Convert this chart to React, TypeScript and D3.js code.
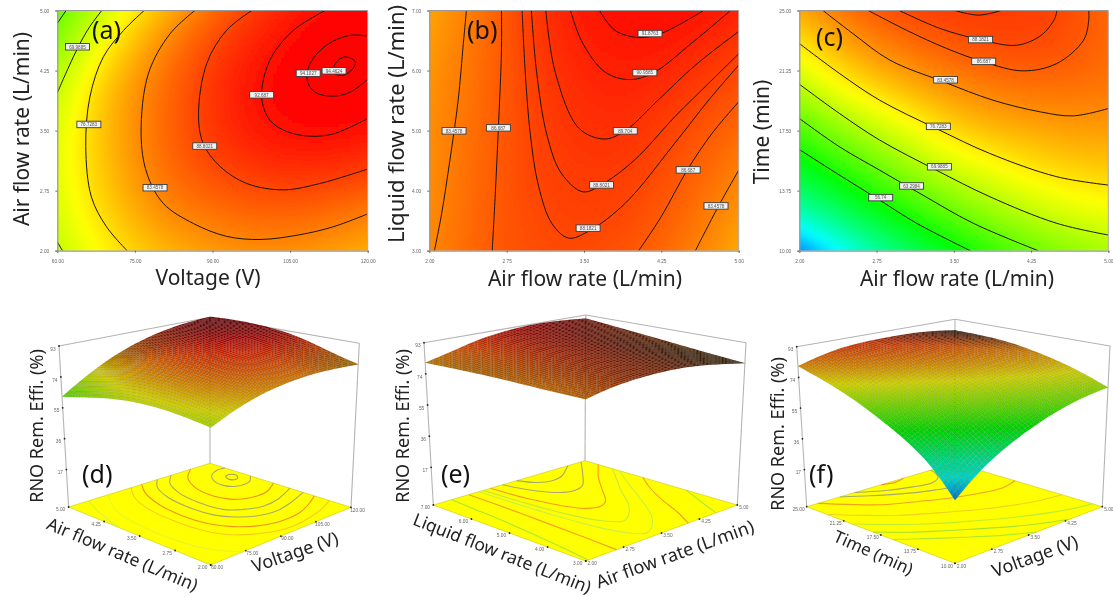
import React, { useEffect, useRef } from 'react'
import * as d3 from 'd3'

// axis ticks
const voltageTicks = [60, 75, 90, 105, 120]
const airTicks = [2, 2.75, 3.5, 4.25, 5]
const liquidTicks = [3, 4, 5, 6, 7]
const timeTicks = [10, 13.75, 17.5, 21.25, 25]
const zTicks = [17, 36, 55, 74, 93]
const colorStops = ['#0000ff', '#00ffff', '#00ff00', '#ffff00', '#ff0000']

// response values read at sample nodes, bottom row first
const gridA = [
  [69.6, 75.3, 79.6, 81.8, 82.7, 82.0, 80.3],
  [71.3, 78.0, 83.0, 85.0, 86.3, 85.8, 83.9],
  [72.3, 79.3, 85.0, 87.9, 89.6, 90.0, 88.8],
  [71.8, 80.0, 85.3, 89.5, 92.0, 93.0, 92.2],
  [69.8, 79.5, 85.0, 89.6, 92.8, 94.1, 93.7],
  [66.0, 75.8, 83.5, 88.5, 91.7, 93.9, 94.3],
  [61.8, 71.2, 79.2, 85.3, 89.7, 92.3, 93.4],
]
const gridB = [
  [83.0, 86.2, 87.5, 87.8, 86.8, 84.0, 80.5],
  [82.5, 85.9, 88.05, 88.8, 88.25, 85.9, 82.6],
  [82.6, 85.4, 88.3, 89.75, 89.6, 87.4, 85.3],
  [82.0, 85.1, 88.8, 90.6, 91.1, 89.75, 87.95],
  [80.8, 84.5, 89.2, 91.6, 92.9, 92.3, 90.7],
]
const gridC = [
  [27, 39, 47.5, 54.5, 60.5, 65, 67.5],
  [43, 50.5, 57.3, 63.5, 68.2, 71.5, 73.3],
  [52.6, 59.2, 65.75, 71, 74, 77.4, 78],
  [60.8, 67.2, 72, 77.8, 80, 81.3, 81.6],
  [68.8, 75.3, 79.5, 82.6, 84.6, 84.9, 84.4],
  [75.2, 81.5, 84.6, 86.9, 88, 87.6, 85.3],
  [81, 85.5, 88.25, 88.8, 88.9, 88.18, 85.4],
]

// contour lines, each [x, y] in axis units
const contoursA = [
  { level: 63.2984, points: [[60, 4.84], [61.7, 5]] },
  { level: 69.9885, points: [[60, 2.11], [61, 2]] },
  { level: 69.9885, points: [[60, 3.97], [62.1, 4.28], [64.4, 4.59], [66.3, 4.8], [68.6, 5]] },
  { level: 76.7283, points: [[76.8, 5], [72.8, 4.75], [68.9, 4.42], [66.3, 3.92], [65.5, 3.3], [66.6, 2.67], [69.5, 2.3], [73.5, 2]] },
  { level: 83.4578, points: [[86.6, 5], [81.8, 4.71], [77.6, 4.21], [76.2, 3.46], [77.3, 2.97], [80.5, 2.59], [86.3, 2.34], [92.7, 2.18], [99.2, 2.14], [106.9, 2.2], [113.4, 2.3], [120, 2.46]] },
  { level: 88.8021, points: [[97.6, 5], [92.7, 4.75], [88.9, 4.34], [87.3, 3.71], [88.2, 3.34], [91.5, 3.05], [96.6, 2.84], [103.7, 2.76], [110.8, 2.84], [120, 3.02]] },
  { level: 92.687, points: [[111.8, 5], [105.6, 4.75], [101.1, 4.38], [99.5, 3.92], [101.1, 3.63], [104.3, 3.49], [108.9, 3.43], [113.4, 3.46], [120, 3.65]] },
  { level: 94.1027, points: [[120, 4.68], [116.6, 4.69], [112.1, 4.57], [108.9, 4.34], [108.3, 4.13], [109.8, 3.98], [113.4, 3.93], [116.6, 3.98], [120, 4.14]] },
  { level: 94.4624, closed: true, points: [[113.4, 4.28], [114.3, 4.38], [115.9, 4.42], [117.6, 4.36], [117.2, 4.28], [115.3, 4.19], [113.7, 4.21]] },
]
// two more rings only the floor of (d) shows
const floorOnlyA = [
  { level: 86.687, points: [[91, 5], [86.5, 4.7], [82.5, 4.2], [81, 3.6], [82, 3.15], [85.5, 2.8], [91, 2.55], [99, 2.42], [107, 2.45], [114, 2.6], [120, 2.78]] },
  { level: 90.9585, points: [[103.5, 5], [98, 4.75], [94, 4.35], [92.5, 3.85], [93.5, 3.4], [97, 3.2], [104, 3.05], [111, 3.1], [120, 3.3]] },
]
const contoursB = [
  { level: 83.4578, points: [[2.05, 3], [2.12, 3.62], [2.2, 4.51], [2.28, 5.51], [2.33, 6.45], [2.36, 7]] },
  { level: 86.687, points: [[2.61, 3], [2.64, 3.95], [2.67, 5.05], [2.7, 6.34], [2.7, 7]] },
  { level: 88.1821, points: [[2.9, 7], [2.93, 5.98], [2.98, 4.93], [3.06, 4.07], [3.19, 3.45], [3.35, 3.21], [3.54, 3.32], [3.9, 3.79], [4.38, 4.79], [4.71, 5.51], [5, 6.09]] },
  { level: 88.8021, points: [[2.99, 7], [3.04, 5.98], [3.14, 4.93], [3.28, 4.29], [3.49, 3.98], [3.67, 4.1], [3.99, 4.51], [4.38, 5.23], [4.71, 5.79], [5, 6.28]] },
  { level: 89.704, points: [[3.13, 7], [3.22, 5.98], [3.45, 5.04], [3.7, 4.86], [3.9, 5], [4.22, 5.51], [4.58, 6.09], [5, 6.65]] },
  { level: 90.9585, points: [[3.37, 7], [3.48, 6.48], [3.7, 5.98], [3.93, 5.85], [4.16, 5.95], [4.54, 6.45], [4.92, 7]] },
  { level: 91.8763, points: [[3.65, 7], [3.8, 6.67], [4.03, 6.55], [4.25, 6.62], [4.66, 7]] },
  { level: 86.687, points: [[4.03, 3], [4.25, 3.57], [4.5, 4.34], [4.74, 4.95], [5, 5.48]] },
  { level: 83.4578, points: [[4.58, 3], [4.8, 3.73], [5, 4.34]] },
]
const contoursC = [
  { level: 56.74, points: [[2, 16.32], [2.39, 14.72], [2.78, 13.16], [3.14, 11.71], [3.66, 10]] },
  { level: 63.2984, points: [[2, 18.26], [2.39, 16.49], [2.78, 15.03], [3.17, 13.58], [3.69, 11.71], [4.32, 10]] },
  { level: 69.9885, points: [[2, 20.4], [2.39, 18.57], [2.78, 16.91], [3.33, 15.03], [3.85, 13.37], [4.5, 11.71], [5, 10.98]] },
  { level: 76.7283, points: [[2, 22.94], [2.39, 21.07], [2.78, 19.4], [3.33, 17.63], [3.85, 16.07], [4.5, 14.62], [5, 14.1]] },
  { level: 83.4578, points: [[2.23, 25], [2.52, 23.56], [2.88, 21.9], [3.4, 20.55], [3.88, 19.4], [4.34, 18.67], [4.66, 18.42], [5, 18.88]] },
  { level: 86.687, points: [[2.67, 25], [3.04, 23.77], [3.43, 22.63], [3.79, 21.79], [4.17, 21.23], [4.5, 21.69], [4.76, 23.15], [4.81, 24.39], [4.81, 25]] },
  { level: 88.1821, points: [[2.97, 25], [3.37, 23.87], [3.75, 23.19], [4.11, 22.83], [4.35, 23.46], [4.48, 24.5], [4.5, 25]] },
  { level: 88.8021, points: [[3.51, 25], [3.74, 24.71], [3.96, 25]] },
]

// contour labels: text, x, y in axis units
const labelsA = [
  ['69.9885', 63.9, 4.55], ['76.7283', 66.1, 3.58], ['83.4578', 78.9, 2.79], ['88.8021', 88.5, 3.31],
  ['92.687', 99.5, 3.95], ['94.1027', 108.5, 4.22], ['94.4624', 113.5, 4.25],
]
const labelsB = [
  ['83.4578', 2.24, 5], ['86.687', 2.67, 5.05], ['88.1821', 3.54, 3.38], ['88.8021', 3.67, 4.1], ['89.704', 3.9, 5],
  ['90.9585', 4.09, 5.97], ['91.8763', 4.14, 6.62], ['86.687', 4.51, 4.35], ['83.4578', 4.78, 3.75],
]
const labelsC = [
  ['56.74', 2.79, 13.33], ['63.2984', 3.09, 14.06], ['69.9885', 3.36, 15.26], ['76.7283', 3.35, 17.78],
  ['83.4578', 3.42, 20.69], ['86.687', 3.79, 21.84], ['88.1821', 3.76, 23.2],
]

const FONT = '"Noto Sans", sans-serif'
const TICK_FONT = '"Liberation Sans", sans-serif'
const fmt2 = d3.format('.2f')

const colorScale = d3.scaleLinear<string>().domain(zTicks).range(colorStops).clamp(true)

// smooth field through the read nodes, for colouring between them
function makeField(grid) {
  const rows = grid.map(r => d3.interpolateBasis(r))
  return (s, t) => d3.interpolateBasis(rows.map(r => r(s)))(t)
}

function drawContourPanel(root, id, o) {
  const g = root.append('g')
  const x = d3.scaleLinear().domain(o.xDomain).range([o.left, o.right])
  const y = d3.scaleLinear().domain(o.yDomain).range([o.bottom, o.top])
  const field = makeField(o.grid)
  const step = 4
  const nx = Math.ceil((o.right - o.left) / step)
  const ny = Math.ceil((o.bottom - o.top) / step)

  root.select('defs').append('clipPath').attr('id', id)
    .append('rect').attr('x', o.left).attr('y', o.top).attr('width', o.right - o.left).attr('height', o.bottom - o.top)

  const cells = []
  d3.range(nx).forEach(i => d3.range(ny).forEach(j => cells.push({ i, j })))
  g.append('g').attr('clip-path', `url(#${id})`)
    .append('g').attr('filter', 'url(#heatBlur)')
    .selectAll('rect').data(cells).join('rect')
    .attr('x', d => o.left + d.i * step - (d.i === 0 ? 14 : 0))
    .attr('y', d => o.bottom - (d.j + 1) * step - (d.j === ny - 1 ? 14 : 0))
    .attr('width', d => step + 0.5 + (d.i === 0 || d.i === nx - 1 ? 14 : 0))
    .attr('height', d => step + 0.5 + (d.j === 0 || d.j === ny - 1 ? 14 : 0))
    .attr('fill', d => colorScale(field((d.i + 0.5) / nx, (d.j + 0.5) / ny)))

  const line = d3.line().x(d => x(d[0])).y(d => y(d[1])).curve(d3.curveCatmullRom.alpha(0.5))
  const closedLine = d3.line().x(d => x(d[0])).y(d => y(d[1])).curve(d3.curveCatmullRomClosed.alpha(0.5))
  g.append('g').attr('clip-path', `url(#${id})`).selectAll('path').data(o.contours).join('path')
    .attr('d', d => (d.closed ? closedLine : line)(d.points))
    .attr('fill', 'none').attr('stroke', '#1c1408').attr('stroke-width', 1)

  const labels = g.append('g').selectAll('g').data(o.labels).join('g')
    .attr('transform', d => `translate(${x(d[1])},${y(d[2])})`)
  labels.append('rect').attr('x', -12).attr('y', -3).attr('width', 24).attr('height', 6.5)
    .attr('fill', '#f1f1f1').attr('stroke', '#3a3a3a').attr('stroke-width', 0.9)
  labels.append('text').text(d => d[0]).attr('text-anchor', 'middle').attr('y', 2)
    .attr('font-size', 4.6).attr('font-family', TICK_FONT).attr('fill', '#555')

  const axisStyle = a => {
    a.attr('font-size', 4.8).attr('font-family', TICK_FONT)
    a.selectAll('text').attr('fill', '#666')
    a.selectAll('line').attr('stroke', '#666')
    a.select('.domain').attr('stroke', '#999').attr('stroke-width', 1.2)
  }
  g.append('g').attr('transform', `translate(0,${o.bottom})`)
    .call(d3.axisBottom(x).tickValues(o.xTicks).tickFormat(fmt2).tickSize(2).tickPadding(7)).call(axisStyle)
  g.append('g').attr('transform', `translate(${o.left},0)`)
    .call(d3.axisLeft(y).tickValues(o.yTicks).tickFormat(fmt2).tickSize(2).tickPadding(6)).call(axisStyle)
  g.append('line').attr('x1', o.left).attr('x2', o.right).attr('y1', o.top).attr('y2', o.top).attr('stroke', '#999').attr('stroke-width', 1.2)
  g.append('line').attr('x1', o.right).attr('x2', o.right).attr('y1', o.top).attr('y2', o.bottom).attr('stroke', '#aaa')

  const title = (txt, tx, ty, rot = 0, size = 21) => g.append('text').text(txt).attr('text-anchor', 'middle')
    .attr('transform', `translate(${tx},${ty}) rotate(${rot})`)
    .attr('font-size', size).attr('font-family', FONT).attr('fill', '#222')
  title(o.xTitle, o.xTitlePos[0], o.xTitlePos[1])
  title(o.yTitle, o.yTitlePos[0], o.yTitlePos[1], -90, o.yTitleSize || 21)
  g.append('text').text(o.tag).attr('x', o.tagPos[0]).attr('y', o.tagPos[1])
    .attr('font-size', 25).attr('font-family', FONT).attr('fill', '#111')
}

function drawSurfacePanel(root, o) {
  const g = root.append('g')
  const { F, L, R, B, Ft, Lt, Rt, Bt } = o.box
  const uScale = d3.scaleLinear().domain(o.yDomain).range([0, 1])
  const vScale = d3.scaleLinear().domain(o.xDomain).range([0, 1])
  const wScale = d3.scaleLinear().domain([-6, 93]).range([0, 1])
  const bil = (a, b, c, d, u, v) => (1 - u) * (1 - v) * a + u * (1 - v) * b + (1 - u) * v * c + u * v * d
  const project = (u, v, w) => {
    const px = k => {
      const lo = bil(F[k], L[k], R[k], B[k], u, v)
      const hi = bil(Ft[k], Lt[k], Rt[k], Bt[k], u, v)
      return lo + (hi - lo) * w
    }
    return [px(0), px(1)]
  }
  const poly = pts => 'M' + pts.map(p => p.map(n => n.toFixed(2)).join(',')).join('L') + 'Z'

  // back walls first
  const wall = '#b4b4b4'
  const seg = (a, b) => g.append('line').attr('x1', a[0]).attr('y1', a[1]).attr('x2', b[0]).attr('y2', b[1])
    .attr('stroke', wall).attr('stroke-width', 1.1)
  seg(L, Lt); seg(Lt, Bt); seg(Bt, Rt); seg(Rt, R); seg(B, Bt)

  // floor with the contours projected on it
  g.append('path').attr('d', poly([F, L, B, R])).attr('fill', '#ffff00').attr('stroke', '#c8c800').attr('stroke-width', 0.6)
  const floorLine = d3.line().curve(d3.curveCatmullRom.alpha(0.5))
  const floorClosed = d3.line().curve(d3.curveCatmullRomClosed.alpha(0.5))
  g.append('g').selectAll('path').data(o.contours).join('path')
    .attr('d', d => (d.closed ? floorClosed : floorLine)(d.points.map(p => project(uScale(p[1]), vScale(p[0]), 0))))
    .attr('fill', 'none').attr('stroke', d => o.floorColor(d.level)).attr('stroke-width', 1.1)

  // tick marks and labels along the floor edges
  const edgeTicks = (vals, toPoint, dx, dy, format) => vals.forEach(val => {
    const p = toPoint(val)
    g.append('circle').attr('cx', p[0]).attr('cy', p[1]).attr('r', 0.9).attr('fill', '#222')
    g.append('text').text(format(val)).attr('x', p[0] + dx).attr('y', p[1] + dy + 1.7).attr('text-anchor', 'middle')
      .attr('font-size', 4.8).attr('font-family', TICK_FONT).attr('fill', '#666')
  })
  edgeTicks(o.yTicks, val => project(uScale(val), 0, 0), -8, 2.5, fmt2)
  edgeTicks(o.xTicks, val => project(0, vScale(val), 0), 6.5, 2.5, fmt2)
  edgeTicks(zTicks, val => project(1, 0, wScale(val)), -6, 3, d3.format('d'))

  // surface mesh, drawn from the back corner to the front one
  const N = 50
  const W = 5 // cells either side for the slope that shades a facet
  const field = makeField(o.grid)
  const z = d3.range(N + 1).map(j => d3.range(N + 1).map(i => field(i / N, j / N)))
  const quads = []
  for (let j = N - 1; j >= 0; j--) {
    for (let i = N - 1; i >= 0; i--) {
      const avg = (z[j][i] + z[j][i + 1] + z[j + 1][i] + z[j + 1][i + 1]) / 4
      const j0 = Math.max(0, j - W), j1 = Math.min(N, j + W + 1)
      const i0 = Math.max(0, i - W), i1 = Math.min(N, i + W + 1)
      const dU = (z[j1][i] - z[j0][i]) / (j1 - j0) * N
      const dV = (z[j][i1] - z[j][i0]) / (i1 - i0) * N
      const shade = Math.max(0.06, Math.min(0.82, 0.42 + 0.017 * (dU + dV)))
      const c = d3.rgb(colorScale(avg))
      const corners = [[j, i], [j, i + 1], [j + 1, i + 1], [j + 1, i]]
        .map(([a, b]) => project(a / N, b / N, wScale(z[a][b])))
      quads.push({ d: poly(corners), fill: d3.rgb(c.r * shade, c.g * shade, c.b * shade).formatRgb() })
    }
  }
  g.append('g').selectAll('path').data(quads).join('path')
    .attr('d', d => d.d).attr('fill', d => d.fill).attr('stroke', '#000').attr('stroke-opacity', 0.16).attr('stroke-width', 0.4)

  const title = (txt, pos, rot, size) => g.append('text').text(txt).attr('text-anchor', 'middle')
    .attr('transform', `translate(${pos[0]},${pos[1]}) rotate(${rot})`)
    .attr('font-size', size).attr('font-family', FONT).attr('fill', '#222')
  title('RNO Rem. Effi.  (%)', o.zTitlePos, -90, 18)
  title(o.yTitle, o.yTitlePos, o.yTitleRot, o.yTitleSize)
  title(o.xTitle, o.xTitlePos, o.xTitleRot, 18)
  g.append('text').text(o.tag).attr('x', o.tagPos[0]).attr('y', o.tagPos[1])
    .attr('font-size', 25).attr('font-family', FONT).attr('fill', '#111')
}

const floorColors = (levels, colors) => d3.scaleOrdinal<number, string>().domain(levels).range(colors)

export default function App() {
  const ref = useRef(null)

  useEffect(() => {
    const root = d3.select(ref.current)
    root.selectAll('*').remove()
    const defs = root.append('defs')
    defs.append('filter').attr('id', 'heatBlur').attr('x', '-5%').attr('y', '-5%').attr('width', '110%').attr('height', '110%')
      .append('feGaussianBlur').attr('stdDeviation', 3)

    drawContourPanel(root, 'clipA', {
      left: 57.3, right: 367.7, top: 10.5, bottom: 250.7,
      xDomain: [60, 120], yDomain: [2, 5], xTicks: voltageTicks, yTicks: airTicks,
      grid: gridA, contours: contoursA, labels: labelsA,
      xTitle: 'Voltage (V)', xTitlePos: [208, 285], yTitle: 'Air flow rate (L/min)', yTitlePos: [29, 129],
      tag: '(a)', tagPos: [92, 39],
    })
    drawContourPanel(root, 'clipB', {
      left: 429.3, right: 738.7, top: 10.5, bottom: 250.7,
      xDomain: [2, 5], yDomain: [3, 7], xTicks: airTicks, yTicks: liquidTicks,
      grid: gridB, contours: contoursB, labels: labelsB,
      xTitle: 'Air flow rate (L/min)', xTitlePos: [585, 286], yTitle: 'Liquid flow rate (L/min)', yTitlePos: [404, 124], yTitleSize: 22,
      tag: '(b)', tagPos: [467, 39],
    })
    drawContourPanel(root, 'clipC', {
      left: 799.3, right: 1108.3, top: 10.5, bottom: 250.7,
      xDomain: [2, 5], yDomain: [10, 25], xTicks: airTicks, yTicks: timeTicks,
      grid: gridC, contours: contoursC, labels: labelsC,
      xTitle: 'Air flow rate (L/min)', xTitlePos: [957, 286], yTitle: 'Time (min)', yTitlePos: [769, 132],
      tag: '(c)', tagPos: [816, 46],
    })

    drawSurfacePanel(root, {
      box: {
        F: [210.7, 565], L: [68.6, 507], R: [351, 507.3], B: [210, 463.3],
        Ft: [210.7, 385], Lt: [59, 346], Rt: [359.3, 343.3], Bt: [210, 317.3],
      },
      xDomain: [60, 120], yDomain: [2, 5], xTicks: voltageTicks, yTicks: airTicks,
      grid: gridA, contours: [...contoursA, ...floorOnlyA],
      floorColor: floorColors(
        [63.2984, 69.9885, 76.7283, 83.4578, 86.687, 88.8021, 90.9585, 92.687, 94.1027, 94.4624],
        ['#e8f830', '#d0f438', '#e8f428', '#f8c820', '#f09020', '#a8a868', '#a8a868', '#f09020', '#a8a868', '#a0a070'],
      ),
      zTitlePos: [43, 426],
      xTitle: 'Voltage (V)', xTitlePos: [297, 558], xTitleRot: -19,
      yTitle: 'Air flow rate (L/min)', yTitlePos: [120, 560], yTitleRot: 23, yTitleSize: 17.5,
      tag: '(d)', tagPos: [82, 483],
    })
    drawSurfacePanel(root, {
      box: {
        F: [585.7, 561], L: [433.3, 505], R: [737.3, 505], B: [585, 460.7],
        Ft: [585.7, 381], Lt: [424, 342.7], Rt: [746, 342.7], Bt: [585.7, 315],
      },
      xDomain: [2, 5], yDomain: [3, 7], xTicks: airTicks, yTicks: liquidTicks,
      grid: gridB, contours: contoursB,
      floorColor: floorColors(
        [83.4578, 86.687, 88.1821, 88.8021, 89.704, 90.9585, 91.8763],
        ['#a8e830', '#f4a020', '#c8f040', '#c8e838', '#f49a20', '#a8a868', '#a8a868'],
      ),
      zTitlePos: [409, 426],
      xTitle: 'Air flow rate (L/min)', xTitlePos: [677, 560], xTitleRot: -20,
      yTitle: 'Liquid flow rate (L/min)', yTitlePos: [500, 559], yTitleRot: 21.5, yTitleSize: 17.5,
      tag: '(e)', tagPos: [441, 483],
    })
    drawSurfacePanel(root, {
      box: {
        F: [955, 563.3], L: [806.7, 506.7], R: [1102.3, 506.7], B: [955, 463],
        Ft: [955, 374.3], Lt: [796.7, 346.7], Rt: [1110, 346], Bt: [955, 319.3],
      },
      xDomain: [2, 5], yDomain: [10, 25], xTicks: airTicks, yTicks: timeTicks,
      grid: gridC, contours: contoursC,
      floorColor: floorColors(
        [56.74, 63.2984, 69.9885, 76.7283, 83.4578, 86.687, 88.1821, 88.8021],
        ['#b0e830', '#a8e030', '#c0ec30', '#f0d020', '#f4a020', '#a8a868', '#a8a868', '#f09020'],
      ),
      zTitlePos: [784, 434],
      xTitle: 'Voltage (V)', xTitlePos: [1037, 562], xTitleRot: -20,
      yTitle: 'Time (min)', yTitlePos: [871, 558], yTitleRot: 24, yTitleSize: 17,
      tag: '(f)', tagPos: [809, 483],
    })
  }, [])

  return (
    <svg
      ref={ref}
      width={1113}
      height={597}
      style={{ position: 'absolute', left: 0, top: 0, background: '#fff', filter: 'blur(0.4px)' }}
    />
  )
}
